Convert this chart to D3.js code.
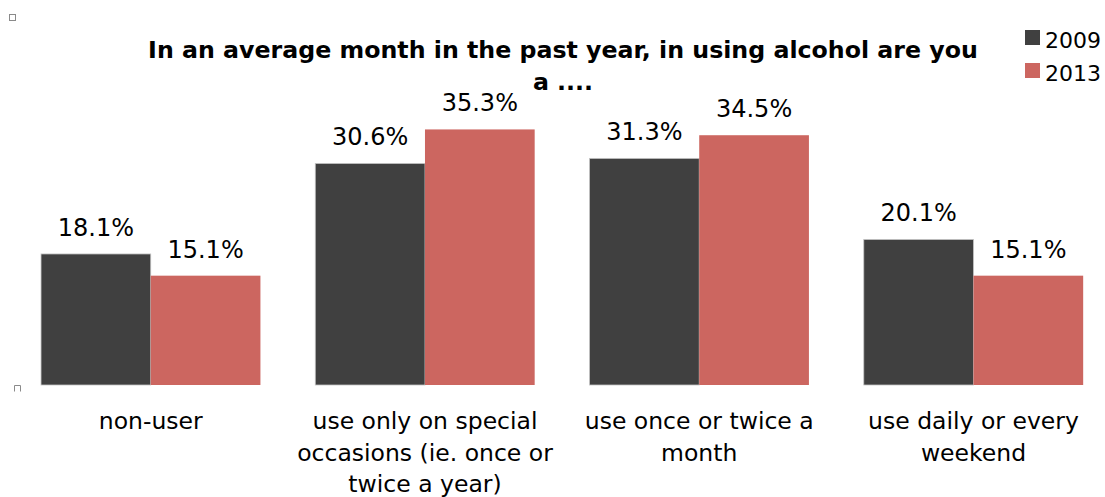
<!DOCTYPE html>
<html>
<head>
<meta charset="utf-8">
<script src="https://cdn.jsdelivr.net/npm/d3@7"></script>
<style>
  html, body { margin: 0; padding: 0; background: #fff; }
  svg { display: block; }
  text { font-family: Tahoma, "DejaVu Sans", sans-serif; fill: #000; }
</style>
</head>
<body>
<svg id="chart" width="1105" height="497"></svg>
<script>
// Survey categories (line breaks as shown under each group)
const categories = [
  "non-user",
  "use only on special\noccasions (ie. once or\ntwice a year)",
  "use once or twice a\nmonth",
  "use daily or every\nweekend"
];
const seriesNames = ["2009", "2013"];
const values2009 = [18.1, 30.6, 31.3, 20.1];
const values2013 = [15.1, 35.3, 34.5, 15.1];
const titleLines = ["In an average month in the past year, in using alcohol are you", "a ...."];

const colors = { "2009": "#404040", "2013": "#cc6660" };
const seriesValues = { "2009": values2009, "2013": values2013 };

const svg = d3.select("#chart");

const x0 = d3.scaleBand()
  .domain(categories)
  .range([13.6, 1110.6])
  .paddingInner(0.2)
  .paddingOuter(0.1);

const x1 = d3.scaleBand()
  .domain(seriesNames)
  .range([0, x0.bandwidth()]);

const y = d3.scaleLinear()
  .domain([0, 40])
  .range([385, 95.4]);

// bars
const groups = svg.append("g").selectAll("g")
  .data(categories)
  .join("g")
  .attr("transform", d => `translate(${x0(d)},0)`);

groups.selectAll("rect")
  .data((c, i) => seriesNames.map(s => ({ s, v: seriesValues[s][i] })))
  .join("rect")
  .attr("x", d => x1(d.s))
  .attr("width", x1.bandwidth())
  .attr("y", d => y(d.v))
  .attr("height", d => y(0) - y(d.v))
  .attr("fill", d => colors[d.s])
  .attr("stroke", d => d.s === "2009" ? "#c4c4c4" : "none")
  .attr("stroke-width", 0.8);

// value labels
groups.selectAll("text.val")
  .data((c, i) => seriesNames.map(s => ({ s, v: seriesValues[s][i] })))
  .join("text")
  .attr("class", "val")
  .attr("x", d => x1(d.s) + x1.bandwidth() / 2)
  .attr("y", d => y(d.v) - 18)
  .attr("text-anchor", "middle")
  .attr("font-size", 24)
  .text(d => d.v.toFixed(1) + "%");

// category axis labels
const xAxis = d3.axisBottom(x0).tickSize(0).tickFormat("");
const axisG = svg.append("g").attr("transform", "translate(0,385)").call(xAxis);
axisG.select(".domain").remove();
axisG.selectAll(".tick").each(function(d) {
  const t = d3.select(this).append("text")
    .attr("text-anchor", "middle")
    .attr("font-size", 23.5)
    .attr("y", 44);
  d.split("\n").forEach((line, i) => {
    t.append("tspan").attr("x", 0).attr("dy", i === 0 ? 0 : 31.5).text(line);
  });
});

// title, sized so its first line spans the available width
const title = svg.append("text")
  .attr("x", 563)
  .attr("y", 58)
  .attr("text-anchor", "middle")
  .attr("font-size", 22)
  .attr("font-weight", "bold");
titleLines.forEach((line, i) => {
  title.append("tspan").attr("x", 563).attr("dy", i === 0 ? 0 : 32).text(line);
});
const firstLine = title.select("tspan").node();
const w = firstLine.getComputedTextLength();
if (w > 0) title.attr("font-size", 22 * 830 / w);

// legend
const legend = svg.append("g").selectAll("g")
  .data(seriesNames)
  .join("g")
  .attr("transform", (d, i) => `translate(1025,${30 + i * 33})`);
legend.append("rect")
  .attr("width", 15).attr("height", 15)
  .attr("fill", d => colors[d]);
legend.append("text")
  .attr("x", 20).attr("y", 18)
  .attr("font-size", 22)
  .text(d => d);

// small frame handles
svg.append("rect").attr("x", 9.5).attr("y", 14.5).attr("width", 6).attr("height", 6)
  .attr("fill", "#fff").attr("stroke", "#8a8a8a").attr("stroke-width", 1);
svg.append("path").attr("d", "M14.5,391.5 V385.5 H20.5 V391.5")
  .attr("fill", "none").attr("stroke", "#8a8a8a").attr("stroke-width", 1);
</script>
</body>
</html>
